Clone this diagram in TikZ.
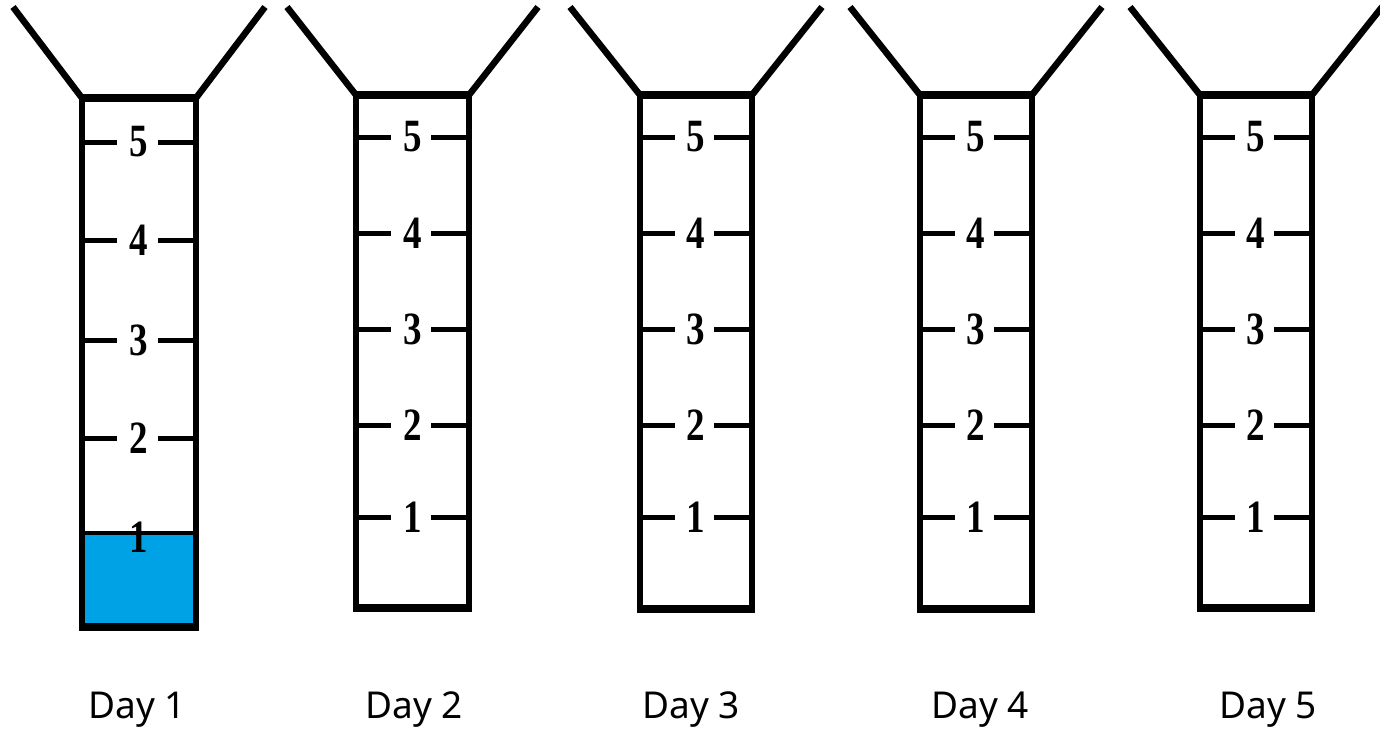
\documentclass[tikz,border=0pt]{standalone}
\usepackage{fontspec}
\setmainfont{Liberation Serif}
\newfontfamily\dayfont{Noto Sans}
\definecolor{water}{RGB}{0,162,230}
\tikzset{
  wall/.style={line width=6.5pt, line join=miter},
  rim/.style={line width=8.5pt},
  funnel/.style={line width=6.5pt, line cap=butt},
  tickmark/.style={line width=5pt},
  num/.style={inner sep=0pt, font=\fontsize{37}{37}\selectfont\bfseries},
  daylabel/.style={inner sep=0pt, anchor=base, font=\dayfont\fontsize{37}{37}\selectfont},
}
% #1 idx, #2 xl, #3 xr, #4 top, #5 bottom, #6 funnel left x, #7 funnel right x, #8 ticks y/n
\newcommand\raingauge[8]{%
  \draw[funnel] (#6,7) -- (#2,#4);
  \draw[funnel] (#7,7) -- (#3,#4);
  \draw[wall] (#2,#4) -- (#2,#5) (#3,#4) -- (#3,#5);
  \draw[rim] (#2-3.25,#4) -- (#3+3.25,#4);
  \draw[rim] (#2-3.25,#5) -- (#3+3.25,#5);
  \foreach \y/\n in {#8} {
    \node[num] (n#1\n) at ({(#2+#3)/2},\y) {\scalebox{1}[1.25]{\n}};
    \draw[tickmark] (#2,\y) -- ++(35,0);
    \draw[tickmark] (#3,\y) -- ++(-38,0);
  }
}
\begin{document}
\begin{tikzpicture}[x=1pt,y=-1pt]
\useasboundingbox (0,0) rectangle (1380,728);
% Day 1 water
\fill[water] (82,533) rectangle (196,627);
\draw[line width=4pt] (82,533) -- (196,533);
\raingauge{1}{82}{196}{98}{627}{13}{265}{142/5,240/4,340/3,438/2}
\node[num] (n11) at (139,537) {\scalebox{1}[1.25]{1}};
\raingauge{2}{356}{469}{95}{608}{287}{538}{137/5,233/4,329/3,425/2,517/1}
\raingauge{3}{640}{752}{95}{609}{570}{822}{137/5,233/4,329/3,425/2,517/1}
\raingauge{4}{920}{1032}{95}{609}{850}{1102}{137/5,233/4,329/3,425/2,517/1}
\raingauge{5}{1200}{1312}{95}{608}{1130}{1382}{137/5,233/4,329/3,425/2,517/1}
\node[daylabel] (d1) at (137,718) {Day 1};
\node[daylabel] (d2) at (414,718) {Day 2};
\node[daylabel] (d3) at (691,718) {Day 3};
\node[daylabel] (d4) at (980,718) {Day 4};
\node[daylabel] (d5) at (1268,718) {Day 5};
\end{tikzpicture}
\end{document}
